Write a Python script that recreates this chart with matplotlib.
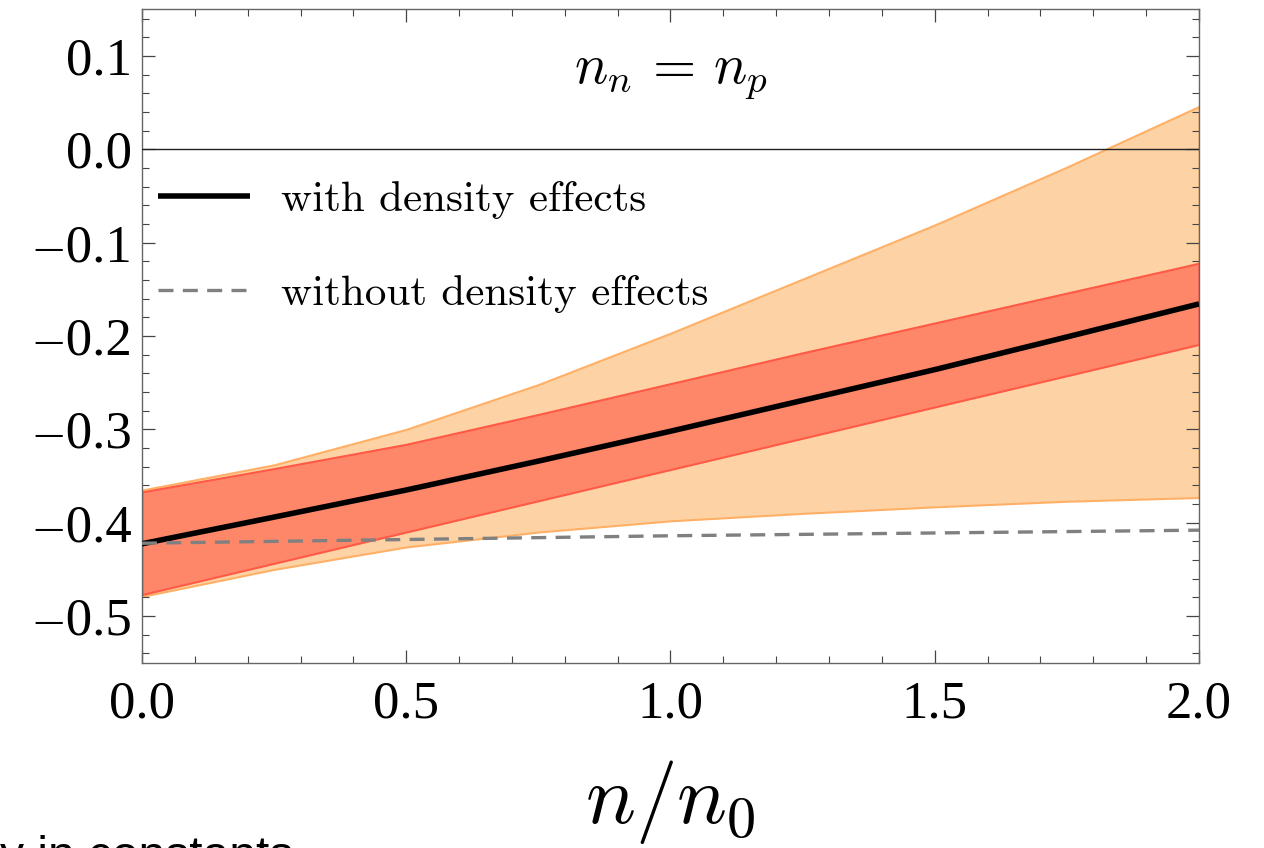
import matplotlib
matplotlib.use("Agg")
import matplotlib.pyplot as plt
from matplotlib.ticker import MultipleLocator, FuncFormatter

# density grid n/n0
n_ratio = [0.0, 0.25, 0.5, 0.75, 1.0, 1.25, 1.5, 1.75, 2.0]

# with density effects (central curve and bands)
central = [-0.4226, -0.394, -0.365, -0.334, -0.302, -0.269, -0.236, -0.201, -0.1656]
inner_hi = [-0.367, -0.342, -0.316, -0.284, -0.251, -0.218, -0.186, -0.154, -0.122]
inner_lo = [-0.477, -0.4435, -0.410, -0.3765, -0.343, -0.3095, -0.276, -0.2425, -0.209]
outer_hi = [-0.365, -0.338, -0.300, -0.252, -0.197, -0.139, -0.081, -0.019, 0.046]
outer_lo = [-0.479, -0.450, -0.426, -0.410, -0.398, -0.390, -0.383, -0.377, -0.373]

# without density effects
no_density = [-0.422, -0.420, -0.418, -0.416, -0.414, -0.4125, -0.411, -0.4095, -0.408]

x_ticks = [0.0, 0.5, 1.0, 1.5, 2.0]
y_ticks = [-0.5, -0.4, -0.3, -0.2, -0.1, 0.0, 0.1]


def fmt(v, pos):
    # long dash like the original minus
    return ('%.1f' % v).replace('-', '\u2013\u200a')


plt.rcParams['mathtext.fontset'] = 'cm'
plt.rcParams['font.family'] = ['Liberation Serif', 'DejaVu Serif']

fig = plt.figure(figsize=(12.64, 8.48), dpi=100)
ax = fig.add_axes([0.1123, 0.2185, 0.8363, 0.7705])

# bandas
ax.fill_between(n_ratio, outer_lo, outer_hi, facecolor='#fdd3a5', edgecolor='#ffb066',
                linewidth=1.5, zorder=1)
ax.fill_between(n_ratio, inner_lo, inner_hi, facecolor='#ff8769', edgecolor='#ff5a46',
                linewidth=1.5, zorder=2)
ax.axhline(0.0, color='#222222', linewidth=1.0, zorder=3)

ax.plot(n_ratio, central, color='black', linewidth=4.0, zorder=4,
        solid_capstyle='butt', label='with density effects')
ax.plot(n_ratio, no_density, color='#808080', linewidth=2.4, zorder=5,
        dashes=(4.5, 2.8), label='without density effects')

ax.set_xlim(0.0, 2.0)
ax.set_ylim(-0.55, 0.15)
ax.set_xticks(x_ticks)
ax.set_yticks(y_ticks)
ax.xaxis.set_minor_locator(MultipleLocator(0.1))
ax.yaxis.set_minor_locator(MultipleLocator(0.02))
ax.xaxis.set_major_formatter(FuncFormatter(fmt))
ax.yaxis.set_major_formatter(FuncFormatter(fmt))

ax.tick_params(which='both', direction='in', top=True, right=True, color='#444444')
ax.tick_params(which='major', length=9.5, width=0.9, labelsize=38)
ax.tick_params(which='minor', length=5, width=0.8)
ax.tick_params(axis='x', which='major', pad=13)
ax.tick_params(axis='y', which='major', pad=7)
for s in ax.spines.values():
    s.set_color('#666666')
    s.set_linewidth(1.0)

ax.set_xlabel(r'$n/n_0$', fontsize=60, labelpad=21)

ax.text(1.0, 0.0795, r'$n_n\,=\,n_p$', fontsize=40, ha='center', va='center')

ax.legend(loc='upper left', bbox_to_anchor=(0.015, 0.737), frameon=False,
          prop={'family': 'cmr10', 'size': 31}, handlelength=2.15,
          handletextpad=0.7, labelspacing=1.3, borderaxespad=0, borderpad=0)

# restes d'une diapo, coupé en bas
fig.text(0.0, -0.026, 'y in constants', fontsize=34.5, family='Liberation Sans',
         ha='left', va='baseline')

fig.savefig('out.png', dpi=100)
